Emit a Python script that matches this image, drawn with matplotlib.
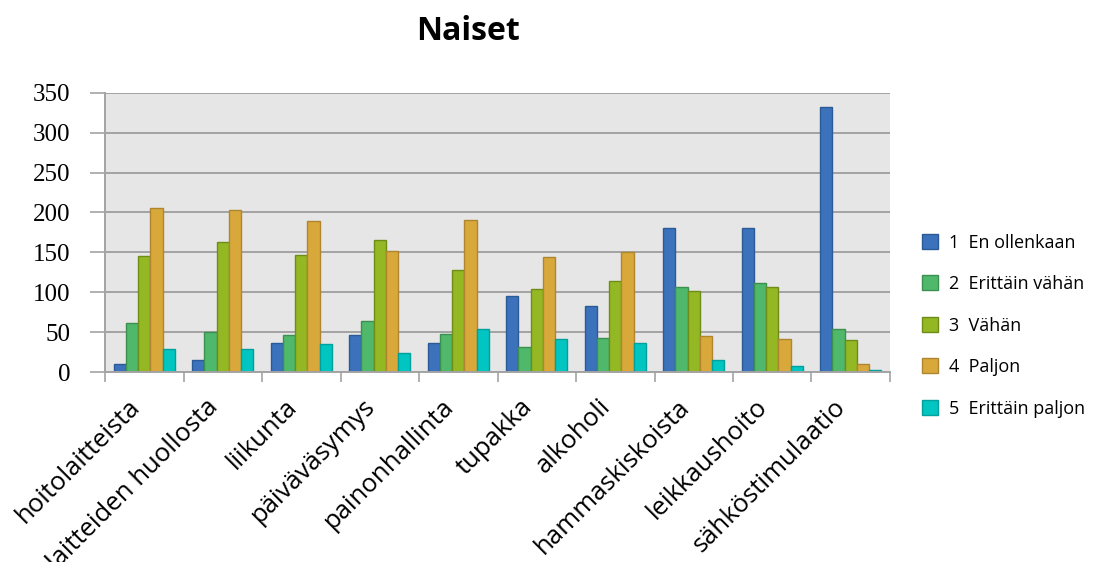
import numpy as np
import matplotlib
matplotlib.use("Agg")
import matplotlib.pyplot as plt
from matplotlib.transforms import ScaledTranslation

# Categories and answer counts per response level
categories = ["hoitolaitteista", "laitteiden huollosta", "liikunta", "päiväväsymys",
              "painonhallinta", "tupakka", "alkoholi", "hammaskiskoista",
              "leikkaushoito", "sähköstimulaatio"]
levels = ["1  En ollenkaan", "2  Erittäin vähän", "3  Vähän", "4  Paljon", "5  Erittäin paljon"]

en_ollenkaan = [10, 15, 37, 47, 37, 95, 83, 180, 181, 332]
erittain_vahan = [62, 50, 46, 64, 48, 32, 43, 106, 112, 54]
vahan = [146, 163, 147, 165, 128, 104, 114, 102, 107, 40]
paljon = [205, 203, 189, 152, 191, 144, 150, 45, 42, 10]
erittain_paljon = [29, 29, 35, 24, 54, 42, 37, 15, 8, 2]

series = [en_ollenkaan, erittain_vahan, vahan, paljon, erittain_paljon]
colors = ["#3b72bb", "#50b86b", "#93b823", "#d9a83a", "#00c5c1"]
edges = ["#2b5a96", "#3b9050", "#6e8c18", "#b08530", "#00a09c"]

fig = plt.figure(figsize=(11.1, 5.62), dpi=100)
ax = fig.add_axes([0.0946, 0.338, 0.7072, 0.497])
ax.set_facecolor("#e6e6e6")

x = np.arange(len(categories))
bw = 0.156
for i, (vals, c, ec, lab) in enumerate(zip(series, colors, edges, levels)):
    ax.bar(x + (i - 2) * bw, vals, width=bw, color=c, edgecolor=ec, linewidth=1.0,
           label=lab, zorder=3)

ax.set_xlim(-0.5, len(categories) - 0.5)
ax.set_ylim(0, 350)
ax.set_yticks(range(0, 351, 50))
ax.yaxis.grid(True, color="#a3a3a3", linewidth=1.4, zorder=1)
ax.tick_params(axis="y", length=11, width=1.2, color="#a3a3a3", pad=14,
               labelsize=18, labelfontfamily="Liberation Serif")

# category boundary ticks on the x axis, labels at the centers
ax.set_xticks(np.arange(-0.5, len(categories)), minor=False)
ax.set_xticklabels([])
ax.set_xticks(x, minor=True)
ax.set_xticklabels(categories, minor=True, rotation=45, ha="right", va="top",
                   rotation_mode="anchor", fontsize=18.5, family="Open Sans")
ax.tick_params(axis="x", which="major", length=7, width=1.2, color="#a3a3a3")
ax.tick_params(axis="x", which="minor", length=0, pad=16)
shift = ScaledTranslation(-17 / 100, 0, fig.dpi_scale_trans)
for lbl in ax.get_xticklabels(minor=True):
    lbl.set_transform(lbl.get_transform() + shift)

for side in ["top", "right"]:
    ax.spines[side].set_visible(False)
for side in ["left", "bottom"]:
    ax.spines[side].set_color("#a3a3a3")
    ax.spines[side].set_linewidth(1.4)
    ax.spines[side].set_zorder(4)

fig.text(0.4216, 0.944, "Naiset", ha="center", va="center", fontsize=23,
         fontweight="bold", family="Open Sans")

ax.legend(loc="center left", bbox_to_anchor=(1.02, 0.166), frameon=False,
          prop={"family": "Open Sans", "size": 13},
          handlelength=0.9, handleheight=0.9, labelspacing=1.3, handletextpad=0.6)

fig.savefig("out.png", dpi=100)
